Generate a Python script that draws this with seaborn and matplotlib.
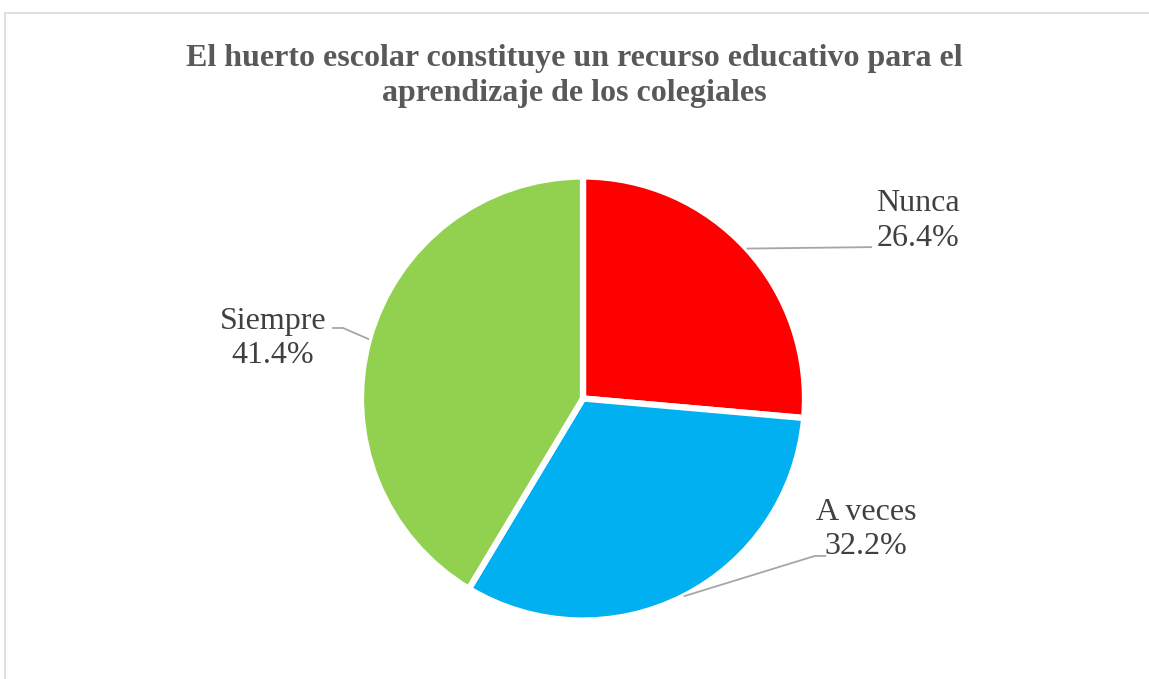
import numpy as np
import matplotlib.pyplot as plt
import seaborn as sns

# data
categories = ['Nunca', 'A veces', 'Siempre']
percentages = [26.4, 32.2, 41.4]
slice_colors = ['#FF0000', '#00B0F0', '#92D050']
title_text = 'El huerto escolar constituye un recurso educativo para el\naprendizaje de los colegiales'

sns.set_theme(style='white')
plt.rcParams['font.family'] = ['Liberation Serif', 'DejaVu Serif']

W, H = 1149, 679
fig = plt.figure(figsize=(W / 100, H / 100), dpi=100)

# axes covering the whole figure, 1 data unit = pie radius (222 px)
R = 222.0
cx, cy = 583.0, 679 - 398.5
ax = fig.add_axes([0, 0, 1, 1])

wedges, _ = ax.pie(percentages, colors=sns.color_palette(slice_colors), startangle=90,
                   counterclock=False, radius=1.0,
                   wedgeprops=dict(edgecolor='white', linewidth=4.5))
ax.set_aspect('auto')
ax.set_xlim(-cx / R, (W - cx) / R)
ax.set_ylim(-cy / R, (H - cy) / R)
ax.axis('off')

# label layout: text centre and leader elbow points (data units)
label_pos = {
    'Nunca': ((1.509, 0.80), [(1.302, 0.682)]),
    'A veces': ((1.275, -0.59), [(1.045, -0.709), (1.095, -0.709)]),
    'Siempre': ((-1.396, 0.27), [(-1.081, 0.3176), (-1.131, 0.3176)]),
}
for w, name, pct in zip(wedges, categories, percentages):
    ang = np.deg2rad((w.theta1 + w.theta2) / 2)
    ex, ey = np.cos(ang), np.sin(ang)
    (tx, ty), elbows = label_pos[name]
    xs = [ex] + [p[0] for p in elbows]
    ys = [ey] + [p[1] for p in elbows]
    ax.plot(xs, ys, color='#A6A6A6', lw=1.3, solid_capstyle='butt')
    ax.text(tx, ty, f'{name}\n{pct:.1f}%', ha='center', va='center',
            fontsize=23, color='#404040', linespacing=1.24)

fig.text(0.5, 1 - 76 / H, title_text, ha='center', va='center', fontsize=23,
         fontweight='bold', color='#595959', linespacing=1.29)

# chart-area border
border = plt.Rectangle((4.5 / W, -0.1), 1.2, 1.1 - 13.5 / H, transform=fig.transFigure,
                       fill=False, edgecolor='#D9D9D9', lw=1.2)
fig.patches.append(border)

fig.savefig('out.png', dpi=100, facecolor='white')
